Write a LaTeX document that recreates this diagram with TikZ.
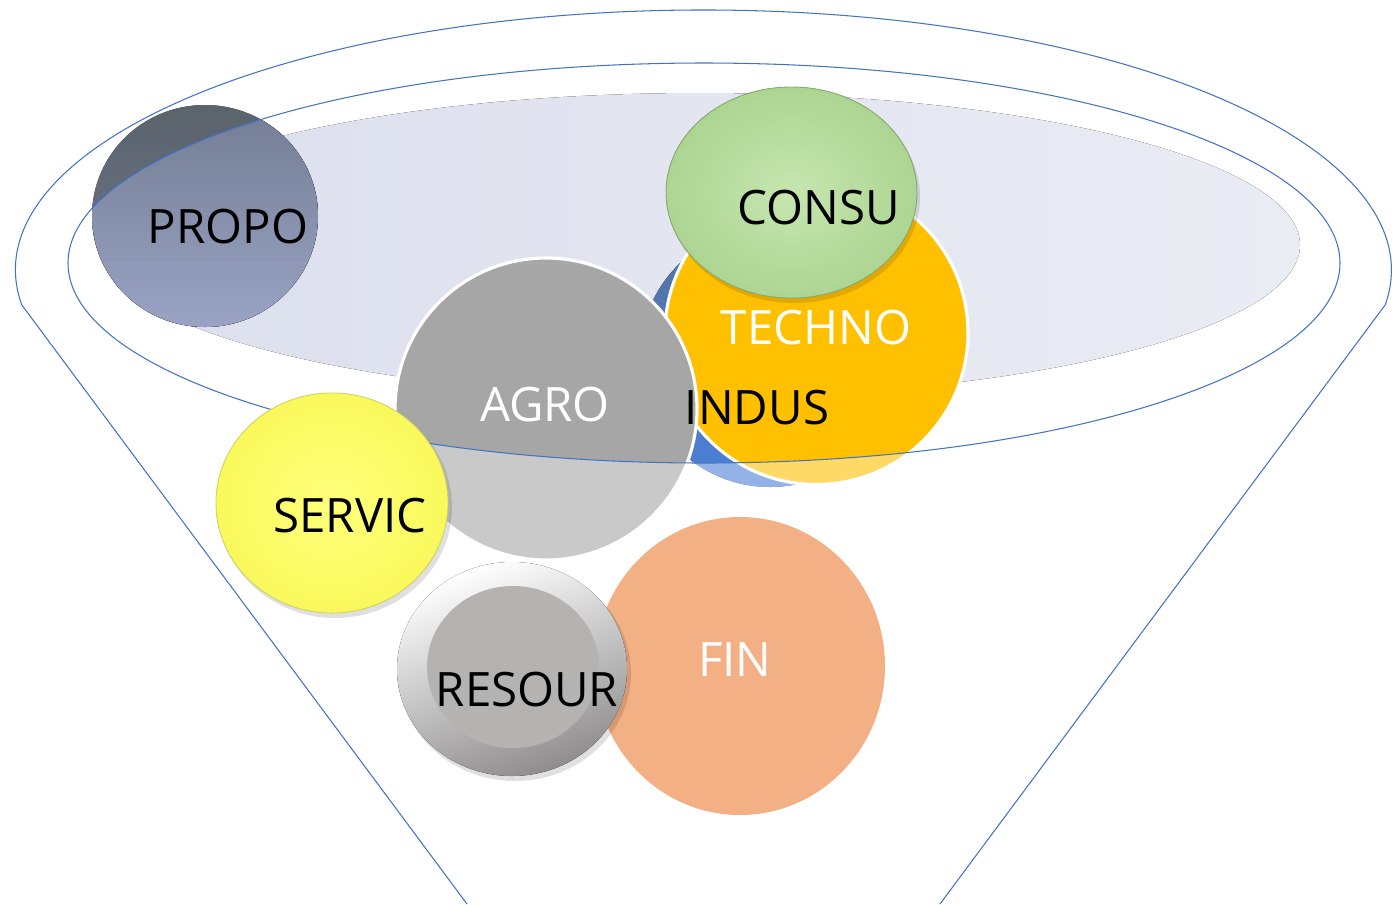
\documentclass[tikz,border=0pt]{standalone}
\usepackage{fontspec}
\setmainfont{Open Sans}

\definecolor{rimblue}{HTML}{4472C4}
\definecolor{haze}{HTML}{DCDFED}
\definecolor{hazeR}{HTML}{EAECF4}
\definecolor{propodark}{HTML}{5E6870}
\definecolor{propomid}{HTML}{737D93}
\definecolor{propolight}{HTML}{9AA3C4}
\definecolor{consulight}{HTML}{C6E6B0}
\definecolor{consugreen}{HTML}{ADD592}
\definecolor{technoorange}{HTML}{FFC000}
\definecolor{indusdark}{HTML}{55739F}
\definecolor{indusblue}{HTML}{4A80DA}
\definecolor{agrogray}{HTML}{A6A6A6}
\definecolor{servicin}{HTML}{FFFF7C}
\definecolor{servicout}{HTML}{F9F95C}
\definecolor{resourgray}{HTML}{B5B2B2}
\definecolor{resourdark}{HTML}{8E8C8C}
\definecolor{finsalmon}{HTML}{F3B084}

\tikzset{
  rim/.style={draw=rimblue, line width=0.6pt},
  tag/.style={font=\fontsize{27}{30}\selectfont, inner sep=0pt},
  ringed/.style={draw=white, line width=1.8pt},
  drop/.style={fill=black, opacity=0.12},
}

\begin{document}
\begin{tikzpicture}[x=0.02cm,y=-0.02cm]
\useasboundingbox (0,0) rectangle (1397,904);
% haze in the mouth of the funnel
\fill[left color=haze, right color=hazeR] (700,245) ellipse[x radius=600, y radius=152];
% PROPO, darker where it sticks out over the rim
\fill[top color=propodark, bottom color=propomid, opacity=0.95] (205,216) ellipse[x radius=113, y radius=111];
\begin{scope}
\clip (704,263) ellipse[x radius=636, y radius=200];
\fill[top color=propomid, bottom color=propolight] (205,216) ellipse[x radius=113, y radius=111];
\end{scope}
% bubbles sitting in the mouth
\fill[top color=indusdark, bottom color=indusblue] (770,357) circle[radius=130];
\filldraw[fill=technoorange, ringed] (816.5,333) circle[radius=151.5];
\fill[drop] (794,197) ellipse[x radius=126, y radius=106];
\filldraw[inner color=consulight, outer color=consugreen, draw=consugreen!80!black, line width=0.5pt] (791.5,192.5) ellipse[x radius=125.5, y radius=105.5];
\filldraw[fill=agrogray, ringed] (546,409) circle[radius=151];
% front wall of the funnel washes out what is below the rim
\begin{scope}
\clip (0,263) rectangle (1397,904);
\fill[white, fill opacity=0.4, even odd rule] (0,263) rectangle (1397,904) (704,263) ellipse[x radius=636, y radius=200];
\end{scope}
% funnel outline
\draw[rim] (704,263) ellipse[x radius=636, y radius=200];
\draw[rim] (467,904) -- (21.7,304.8) arc[start angle=172.3, end angle=367.7, x radius=688, y radius=260] -- (940,904);
\node[tag] (propo) at (228,227) {PROPO};
\node[tag] (consu) at (819,208) {CONSU};
\node[tag, text=white] (techno) at (816,328) {TECHNO};
\node[tag] (indus) at (757,408) {INDUS};
\node[tag, text=white] (agro) at (545,405) {AGRO};
% bubbles below the rim
\fill[finsalmon] (740,666) ellipse[x radius=145, y radius=149];
\fill[drop] (515,673) ellipse[x radius=116, y radius=108];
\fill[top color=white, bottom color=resourdark, shading angle=20] (512,669) ellipse[x radius=115, y radius=107];
\fill[resourgray] (513,667) ellipse[x radius=86, y radius=81];
\fill[drop] (335,507) ellipse[x radius=117, y radius=111];
\filldraw[inner color=servicin, outer color=servicout, draw=servicout!70!gray, line width=0.5pt] (332,503) ellipse[x radius=116, y radius=110];
\node[tag, text=white] (fin) at (735,660) {FIN};
\node[tag] (resour) at (527,690) {RESOUR};
\node[tag] (servic) at (350,516) {SERVIC};
\end{tikzpicture}
\end{document}
